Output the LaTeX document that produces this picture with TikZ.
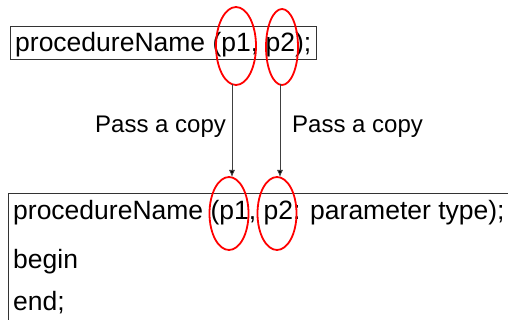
\documentclass[tikz,border=0pt]{standalone}
\usepackage{fontspec}
\setmainfont{Liberation Sans}
\usetikzlibrary{shapes.geometric,arrows.meta}
\begin{document}
\begin{tikzpicture}[x=1pt,y=-1pt,
  box/.style={draw=black!80, line width=0.9pt, inner sep=0pt},
  code/.style={inner sep=0pt, anchor=base west, font=\fontsize{26.5}{30}\selectfont},
  lbl/.style={inner sep=0pt, anchor=base west, font=\fontsize{24}{28}\selectfont},
  ring/.style={ellipse, draw=red, line width=1.8pt, inner sep=0pt},
  arr/.style={draw=black!75, line width=0.8pt, -{Latex[length=7pt,width=6pt,fill=black]}}]
\useasboundingbox (0,0) rectangle (508,320);
\clip (0,0) rectangle (508,320);
% top box
\node[box, anchor=north west, minimum width=306pt, minimum height=33pt] (tb) at (10,26) {};
\node[code] (tt) at (15,52) {procedureName (p1, p2);};
% bottom box
\node[box, anchor=north west, minimum width=520pt, minimum height=160pt] (bb) at (8,193) {};
\node[code] (b1) at (13,220) {procedureName (p1, p2: parameter type);};
\node[code] (b2) at (13,268) {begin};
\node[code] (b3) at (13,310) {end;};
% ellipses
\node[ring, minimum width=40pt, minimum height=78pt] (t1) at (236,46) {};
\node[ring, minimum width=32pt, minimum height=76pt] (t2) at (282,47) {};
\node[ring, minimum width=39pt, minimum height=73pt] (e1) at (229,213.5) {};
\node[ring, minimum width=39pt, minimum height=73pt] (e2) at (277,213.5) {};
% arrows
\coordinate (a1s) at (232,84);
\coordinate (a1e) at (232,177);
\coordinate (a2s) at (280,84);
\coordinate (a2e) at (280,177);
\draw[arr] (a1s) -- (a1e);
\draw[arr] (a2s) -- (a2e);
% labels
\node[lbl] (l1) at (95,133) {Pass a copy};
\node[lbl] (l2) at (292,133) {Pass a copy};
\end{tikzpicture}
\end{document}
